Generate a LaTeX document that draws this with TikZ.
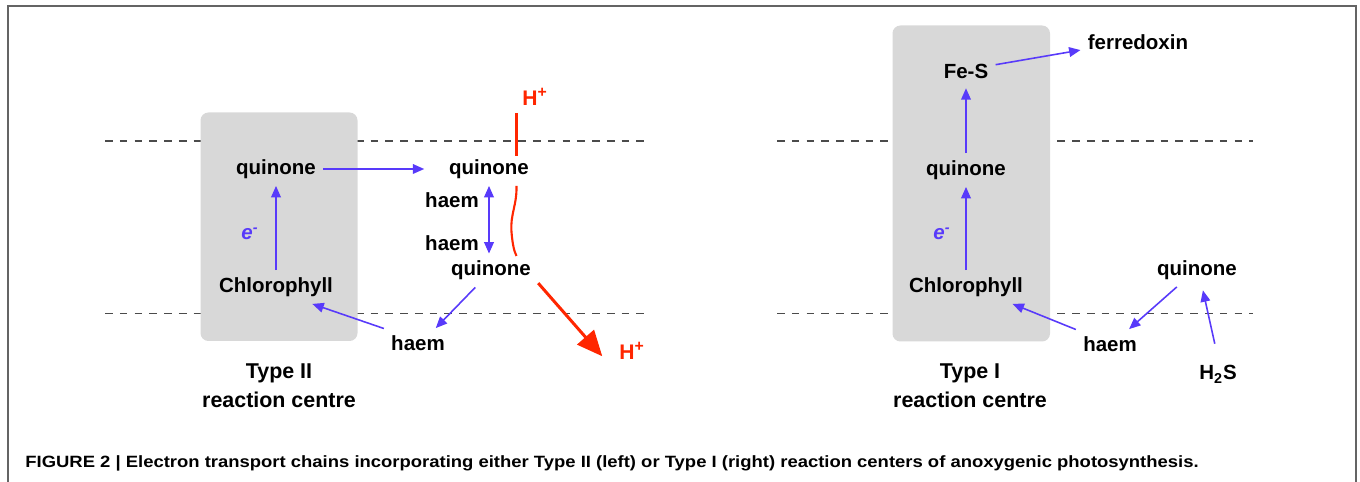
\documentclass[tikz,border=0pt]{standalone}
\usepackage{fontspec}
\setmainfont{Liberation Sans}
\usetikzlibrary{arrows.meta}
\definecolor{eblue}{RGB}{88,58,250}
\definecolor{hred}{RGB}{255,38,0}
\definecolor{boxgray}{RGB}{216,216,216}
\definecolor{dashgray}{RGB}{75,75,75}
\definecolor{framegray}{RGB}{100,100,100}
\newlength\capw
\newcommand\captext{FIGURE 2 | Electron transport chains incorporating either Type II (left) or Type I (right) reaction centers of anoxygenic photosynthesis.}
\newcommand\fitcaption{\fontsize{9.3}{10}\selectfont\bfseries\settowidth{\capw}{\captext}\pgfmathsetmacro\capsx{667.8/\capw}\scalebox{\capsx}[1]{\captext}}
\newcommand\hplus{H\raisebox{0.42em}{\fontsize{9}{9}\selectfont +}}
\begin{document}
\begin{tikzpicture}[x=0.02cm,y=-0.02cm,
  lbl/.style={font=\fontsize{11.66}{14}\selectfont\bfseries, inner sep=4pt},
  ttl/.style={font=\fontsize{12.2}{14}\selectfont\bfseries, inner sep=0pt, anchor=base},
  elbl/.style={font=\fontsize{11.66}{14}\selectfont\bfseries\itshape, text=eblue, inner sep=0pt, anchor=base},
  hlbl/.style={font=\fontsize{12}{14}\selectfont\bfseries, text=hred, inner sep=4pt, anchor=base west},
  eflow/.style={draw=eblue, line width=0.9pt, -{Triangle[length=6.5pt,width=5.5pt]}},
  eboth/.style={draw=eblue, line width=0.9pt, {Triangle[length=6.5pt,width=5.5pt]}-{Triangle[length=6.5pt,width=5.5pt]}},
  hline/.style={draw=hred, line width=1.2pt},
  hflow/.style={draw=hred, line width=1.7pt, -{Triangle[length=14.5pt,width=12.5pt]}},
  dline/.style={draw=dashgray, line width=1.05pt, dash pattern=on 4.4pt off 4pt},
  rcbox/.style={fill=boxgray, rounded corners=4.5pt},
  framel/.style={draw=framegray, line width=1.1pt}
]
\useasboundingbox (0,0) rectangle (1360,482);
% frame
\draw[framel] (8,482) -- (8,6) -- (1356,6) -- (1356,482);
% membrane lines
\draw[dline] (105,141) -- (648,141);
\draw[dline] (105,313.5) -- (648,313.5);
\draw[dline] (777,141) -- (1253,141);
\draw[dline] (777,313.5) -- (1253,313.5);
% reaction centre boxes
\fill[rcbox] (200.5,112.5) rectangle (357.5,341);
\fill[rcbox] (892.5,25.5) rectangle (1050,341.5);

% ---- Type II (left) ----
\node[lbl] (q1) at (276,169) {quinone};
\node[lbl] (chl1) at (276,287) {Chlorophyll};
\node[elbl] (e1) at (250,240) {e\textsuperscript{-}};
\node[lbl] (q2) at (489,169) {quinone};
\node[lbl] (hm1) at (452,200) {haem};
\node[lbl] (hm2) at (452,243) {haem};
\node[lbl] (q3) at (491,270.5) {quinone};
\node[lbl] (hm3) at (418,343) {haem};
\node[hlbl] (hp1) at (515,106) {\hplus};
\node[hlbl] (hp2) at (612,360) {\hplus};
\node[ttl] (t2a) at (279,379) {Type II};
\node[ttl] (t2b) at (279,408) {reaction centre};

\draw[eflow] (chl1.north) -- (q1.south);
\draw[eflow, shorten >=10pt] (q1.east) -- (q2.west);
\draw[eboth] (q2.south) -- (q2.south |- q3.north);
\draw[eflow] (q3.227) -- (hm3.40);
\draw[eflow] (hm3.157) -- (chl1.-25);

\coordinate (r1) at (516.5,113);
\coordinate (r2) at (516.5,156);
\coordinate (r3) at (516.5,186);
\coordinate (r4) at (511.5,232);
\coordinate (r5) at (516.5,256);
\draw[hline] (r1) -- (r2);
\draw[hline] (r3) .. controls (517,205) and (510,215) .. (r4) .. controls (512.5,244) and (514,251) .. (r5);
\draw[hflow, shorten >=8.4pt] (q3.-15.5) -- (hp2.south west);

% ---- Type I (right) ----
\node[lbl] (fes) at (966,71) {Fe-S};
\node[lbl] (ferr) at (1138,42) {ferredoxin};
\node[lbl] (q4) at (966,170) {quinone};
\node[lbl] (chl2) at (966,287) {Chlorophyll};
\node[elbl] (e2) at (942,240) {e\textsuperscript{-}};
\node[lbl] (hm4) at (1110,344) {haem};
\node[lbl] (q5) at (1197,270) {quinone};
\node[lbl, anchor=base] (h2s) at (1218,380) {H\textsubscript{2}S};
\node[ttl] (t1a) at (970,379) {Type I};
\node[ttl] (t1b) at (970,408) {reaction centre};

\draw[eflow] (chl2.north) -- (q4.south);
\draw[eflow, shorten >=1.5pt] (q4.north) -- (fes.south);
\draw[eflow] (fes.12) -- (ferr.188);
\draw[eflow] (hm4.157) -- (chl2.-20);
\draw[eflow] (q5.220) -- (hm4.38);
\draw[eflow, shorten <=8.5pt, shorten >=2pt] (h2s.north) -- (q5.-73);

% caption
\node[anchor=base west, inner sep=0pt] (cap) at (25,468) {\fitcaption};
\end{tikzpicture}
\end{document}
